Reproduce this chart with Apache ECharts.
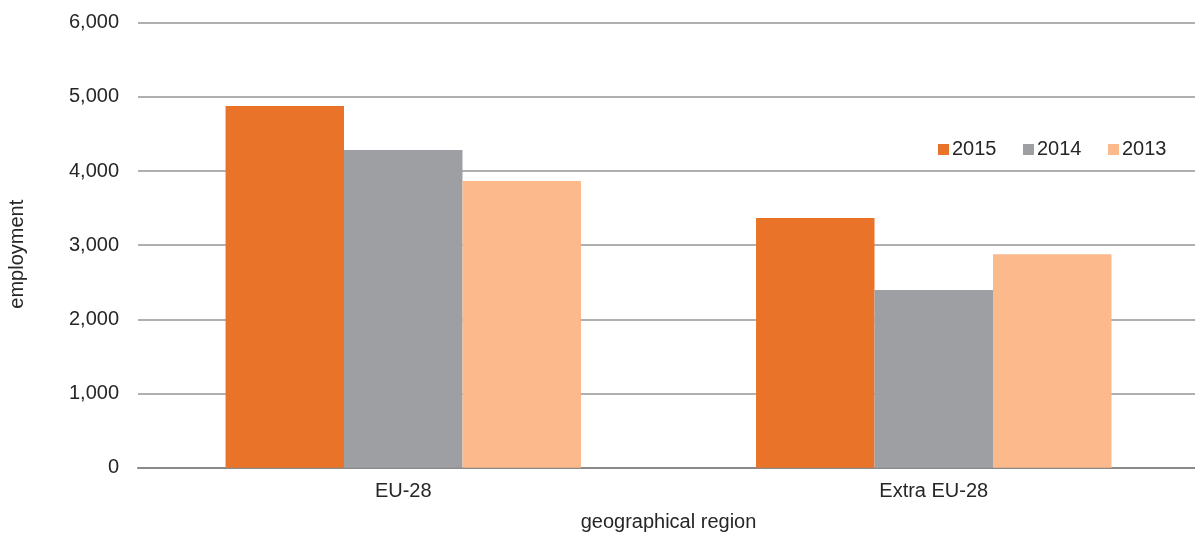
<!DOCTYPE html>
<html>
<head>
<meta charset="utf-8">
<script src="https://cdn.jsdelivr.net/npm/echarts@6/dist/echarts.min.js"></script>
<style>
html,body{margin:0;padding:0;background:#fff;}
#chart{width:1195px;height:539px;}
</style>
</head>
<body>
<div id="chart"></div>
<script>
var categories = ['EU-28', 'Extra EU-28'];
var seriesNames = ['2015', '2014', '2013'];
var values2015 = [4877, 3367];
var values2014 = [4283, 2396];
var values2013 = [3865, 2877];
var yTicks = [0, 1000, 2000, 3000, 4000, 5000, 6000];
var colors = ['#E97328', '#9D9FA3', '#FBB98C'];

var font = "'Liberation Sans', Arial, sans-serif";
var textColor = '#262626';

var chart = echarts.init(document.getElementById('chart'), null, {renderer: 'canvas'});
var seriesData = [values2015, values2014, values2013];

chart.setOption({
  animation: false,
  color: colors,
  textStyle: {fontFamily: font, color: textColor},
  grid: {left: 138, right: -4, top: 22.7, bottom: 71.3, containLabel: false, outerBoundsMode: 'none'},
  legend: {
    data: seriesNames,
    left: 938,
    top: 139.5,
    padding: 0,
    icon: 'rect',
    itemWidth: 11,
    itemHeight: 11,
    itemGap: 26.5,
    textStyle: {fontFamily: font, fontSize: 20, color: textColor, padding: [0, 0, 0, -2]}
  },
  xAxis: {
    type: 'category',
    data: categories,
    name: 'geographical region',
    nameLocation: 'middle',
    nameGap: 55,
    nameTextStyle: {fontFamily: font, fontSize: 20, color: textColor, verticalAlign: 'middle'},
    axisLine: {lineStyle: {color: '#8a8a8a', width: 2}},
    axisTick: {show: false},
    axisLabel: {fontFamily: font, fontSize: 20, color: textColor, margin: 14}
  },
  yAxis: {
    type: 'value',
    min: yTicks[0],
    max: yTicks[yTicks.length - 1],
    interval: yTicks[1] - yTicks[0],
    name: 'employment',
    nameLocation: 'middle',
    nameGap: 121,
    nameRotate: 90,
    nameTextStyle: {fontFamily: font, fontSize: 20, color: textColor, verticalAlign: 'middle', padding: [0, 18, 0, 0]},
    axisLine: {show: false},
    axisTick: {show: false},
    axisLabel: {
      fontFamily: font, fontSize: 20, color: textColor, margin: 19,
      formatter: function (v) { return v.toLocaleString('en-US'); }
    },
    splitLine: {lineStyle: {color: '#969696', width: 1.6}}
  },
  series: seriesNames.map(function (name, i) {
    return {
      name: name,
      type: 'bar',
      data: seriesData[i],
      barGap: '0%',
      barCategoryGap: '33%',
      itemStyle: {color: colors[i]}
    };
  })
});
</script>
</body>
</html>
